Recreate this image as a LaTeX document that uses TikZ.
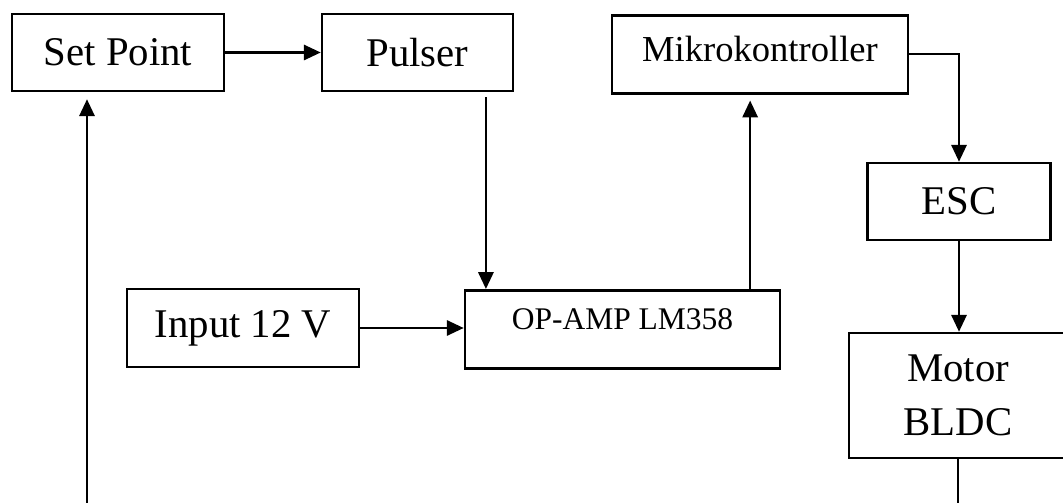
\documentclass[tikz,border=0pt]{standalone}
\usepackage{fontspec}
\setmainfont{Liberation Serif}
\usetikzlibrary{arrows.meta}

\begin{document}
\begin{tikzpicture}[x=0.025cm, y=-0.025cm,
    block/.style={rectangle, draw, line width=1.8pt, inner sep=0pt, align=center,
      font=\fontsize{29}{38}\selectfont},
    link/.style={line width=1.6pt, -{Triangle[length=0.42cm, width=0.38cm]}},
    wire/.style={line width=1.6pt}]
  \useasboundingbox (0,0) rectangle (1063,503);
  \coordinate (bottom) at (0,503);

  % top row
  \node[block, minimum width=5.3cm, minimum height=1.925cm] (setpoint) at (118,52.5) {Set Point};
  \node[block, minimum width=4.775cm, minimum height=1.925cm] (pulser) at (417.5,52.5) {Pulser};
  \node[block, anchor=north, minimum width=7.4cm, text height=1.15cm, text depth=0.8cm,
    font=\fontsize{26}{30}\selectfont] (mikro) at (760,14) {Mikrokontroller};

  % middle row
  \node[block, minimum width=5.8cm, minimum height=1.95cm] (input) at (243,328) {Input 12 V};
  \node[block, anchor=north, minimum width=7.875cm, text height=0.975cm, text depth=0.975cm,
    font=\fontsize{22.4}{26}\selectfont] (opamp) at (622.5,289) {OP-AMP LM358};

  % right column
  \node[block, minimum width=4.575cm, minimum height=1.925cm] (esc) at (959,201.5) {ESC};
  \node[block, minimum width=5.45cm, minimum height=3.125cm] (motor) at (958,395.5) {Motor\\BLDC};

  % connections
  \coordinate (pulseout) at ([xshift=1.71cm, yshift=-0.125cm]pulser.south);
  \coordinate (ampout) at ([xshift=3.19cm]opamp.north);
  \coordinate (feedback) at ([xshift=-0.775cm]setpoint.south);

  \draw[link] (setpoint.east) -- (setpoint.east -| pulser.west);
  \draw[link] (pulseout) -- (pulseout |- opamp.north);
  \draw[link] (input.east) -- (input.east -| opamp.west);
  \draw[link, shorten >=0.15cm] (ampout) -- (ampout |- mikro.south);
  \draw[link] (mikro.east) -| (esc.north);
  \draw[link] (esc.south) -- (esc.south |- motor.north);
  \draw[wire] (motor.south) -- (motor.south |- bottom);
  \draw[link, shorten >=0.175cm] (feedback |- bottom) -- (feedback);
\end{tikzpicture}
\end{document}
